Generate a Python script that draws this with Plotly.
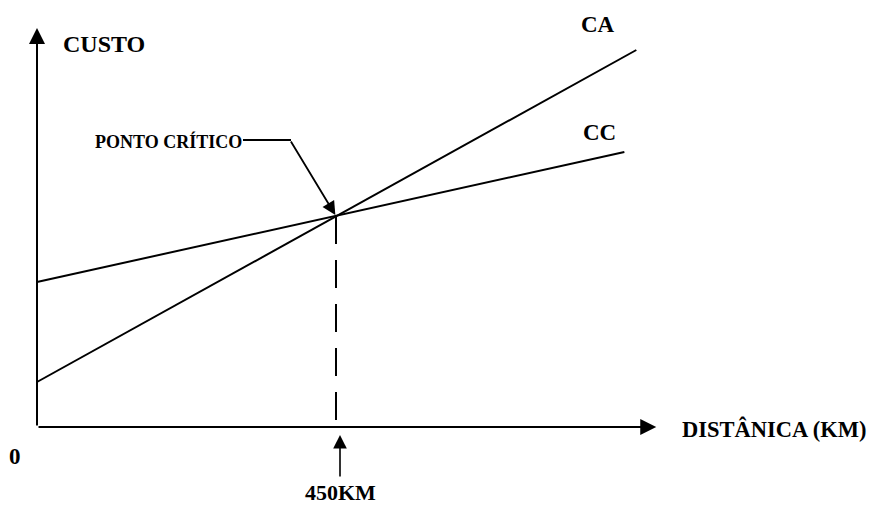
import plotly.graph_objects as go

# ---- data ----
distance_ca = [0, 450, 902]
cost_ca = [45, 211, 377]
distance_cc = [0, 450, 884]
cost_cc = [145, 211, 275]
critical_km = [450]
critical_cost = [211]
axis_max_km = 932
axis_max_cost = 399

label_ca = "CA"
label_cc = "CC"
label_y = "CUSTO"
label_x = "DISTÂNICA (KM)"
label_crit = "PONTO CRÍTICO"
label_km = "450KM"
label_zero = "0"

# ---- pixel mapping helpers (layout only; screen pixels, page has 8px body margin) ----
OFF = 8
W, H = 876 - OFF, 506 - OFF
X0, Y0 = 37, 427          # origin screen pixel
KX = (336 - X0) / 450.0   # px per km
KY = 1.0                  # px per cost unit


def px_x(p):
    return (p - X0) / KX


def px_y(p):
    return (Y0 - p) / KY


FONT = "Liberation Serif"
BLACK = "#000000"

fig = go.Figure()
fig.add_trace(go.Scatter(x=distance_ca, y=cost_ca, mode="lines",
                         line=dict(color=BLACK, width=2), hoverinfo="skip"))
fig.add_trace(go.Scatter(x=distance_cc, y=cost_cc, mode="lines",
                         line=dict(color=BLACK, width=2), hoverinfo="skip"))
fig.add_trace(go.Scatter(x=[critical_km[0], critical_km[0]], y=[critical_cost[0], 0],
                         mode="lines", line=dict(color=BLACK, width=2, dash="28px,16px"),
                         hoverinfo="skip"))

ann = []
# axes with arrows
ann.append(dict(x=0, y=axis_max_cost, ax=0, ay=0, xref="x", yref="y", axref="x", ayref="y",
                text="", showarrow=True, arrowhead=2, arrowsize=1.6, arrowwidth=2,
                arrowcolor=BLACK))
ann.append(dict(x=axis_max_km, y=0, ax=0, ay=0, xref="x", yref="y", axref="x", ayref="y",
                text="", showarrow=True, arrowhead=2, arrowsize=1.6, arrowwidth=2,
                arrowcolor=BLACK))
# pointer arrow under the axis at the critical distance
ann.append(dict(x=critical_km[0] + px_x(340) - px_x(336), y=px_y(435),
                ax=critical_km[0] + px_x(340) - px_x(336), ay=px_y(478),
                xref="x", yref="y", axref="x", ayref="y",
                text="", showarrow=True, arrowhead=2, arrowsize=1.7, arrowwidth=1.6,
                arrowcolor=BLACK))
# ponto critico arrow
ann.append(dict(x=critical_km[0] - 1, y=critical_cost[0] + 1, ax=px_x(290), ay=px_y(140),
                xref="x", yref="y", axref="x", ayref="y",
                text="", showarrow=True, arrowhead=2, arrowsize=1.5, arrowwidth=1.8,
                arrowcolor=BLACK))


def txt(t, xp, yp, size, xanchor="center"):
    return dict(x=px_x(xp), y=px_y(yp), xref="x", yref="y", text="<b>" + t + "</b>",
                showarrow=False, xanchor=xanchor, yanchor="middle",
                font=dict(family=FONT, size=size, color=BLACK))


ann.append(txt(label_y, 61, 44, 24, "left"))
ann.append(txt(label_ca, 598, 24, 23))
ann.append(txt(label_cc, 599, 132, 23))
ann.append(txt(label_crit, 93, 141, 18, "left"))
ann.append(txt(label_x, 680, 429, 22.5, "left"))
ann.append(txt(label_zero, 15, 456, 23))
ann.append(txt(label_km, 340, 492, 22))

shapes = [dict(type="line", xref="x", yref="y", x0=px_x(243), y0=px_y(140),
               x1=px_x(291), y1=px_y(140), line=dict(color=BLACK, width=1.8))]

fig.update_layout(
    width=W, height=H, margin=dict(l=0, r=0, t=0, b=0),
    paper_bgcolor="white", plot_bgcolor="white", showlegend=False,
    xaxis=dict(range=[px_x(OFF), px_x(OFF + W)], visible=False, fixedrange=True),
    yaxis=dict(range=[px_y(OFF + H), px_y(OFF)], visible=False, fixedrange=True),
    annotations=ann, shapes=shapes,
)
fig.write_html("out.html")
